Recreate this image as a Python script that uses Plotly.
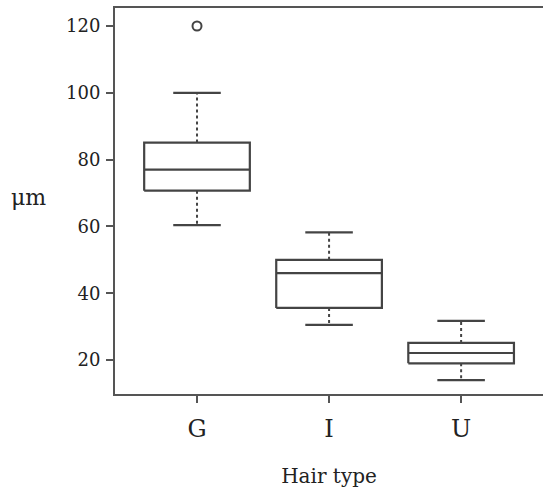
import plotly.graph_objects as go

categories = ["G", "I", "U"]
lower_whisker = [60.4, 30.5, 14.0]
q1 = [70.7, 35.6, 19.0]
median = [77.0, 46.0, 22.1]
q3 = [85.1, 50.0, 25.1]
upper_whisker = [100.0, 58.2, 31.7]
outlier_cat = ["G"]
outlier_val = [120.0]
y_ticks = [20, 40, 60, 80, 100, 120]

BOX_HW = 0.4
CAP_HW = 0.18
LC = "#444444"
pos = {c: i for i, c in enumerate(categories)}

box_x, box_y, med_x, med_y, wh_x, wh_y, cap_x, cap_y = [], [], [], [], [], [], [], []
for i, c in enumerate(categories):
    box_x += [i - BOX_HW, i + BOX_HW, i + BOX_HW, i - BOX_HW, i - BOX_HW, None]
    box_y += [q1[i], q1[i], q3[i], q3[i], q1[i], None]
    med_x += [i - BOX_HW, i + BOX_HW, None]
    med_y += [median[i], median[i], None]
    wh_x += [i, i, None, i, i, None]
    wh_y += [q3[i], upper_whisker[i], None, q1[i], lower_whisker[i], None]
    cap_x += [i - CAP_HW, i + CAP_HW, None, i - CAP_HW, i + CAP_HW, None]
    cap_y += [upper_whisker[i], upper_whisker[i], None, lower_whisker[i], lower_whisker[i], None]

fig = go.Figure()
fig.add_trace(go.Scatter(x=wh_x, y=wh_y, mode="lines", line=dict(color=LC, width=2, dash="dot"), hoverinfo="skip"))
fig.add_trace(go.Scatter(x=cap_x, y=cap_y, mode="lines", line=dict(color=LC, width=2.2), hoverinfo="skip"))
fig.add_trace(go.Scatter(x=box_x, y=box_y, mode="lines", line=dict(color=LC, width=2.2), hoverinfo="skip"))
fig.add_trace(go.Scatter(x=med_x, y=med_y, mode="lines", line=dict(color=LC, width=2.2), hoverinfo="skip"))
fig.add_trace(go.Scatter(x=[pos[c] for c in outlier_cat], y=outlier_val, mode="markers",
                         marker=dict(symbol="circle-open", size=9, color=LC, line=dict(width=2)), hoverinfo="skip"))

fig.update_layout(
    width=543, height=498,
    margin=dict(l=115, r=0, t=8, b=104),
    paper_bgcolor="white", plot_bgcolor="white",
    showlegend=False,
    font=dict(family="DejaVu Serif", color="#222222"),
    xaxis=dict(
        range=[-0.621, 2.62], tickvals=list(range(len(categories))), ticktext=categories,
        showline=True, linecolor="#555555", linewidth=2, mirror=True,
        ticks="outside", ticklen=7, tickwidth=2, tickcolor="#555555",
        showgrid=False, zeroline=False, tickfont=dict(size=24), ticklabelstandoff=5,
        title=dict(text="Hair type", font=dict(size=20), standoff=27),
    ),
    yaxis=dict(
        range=[9.82, 125.39], tickvals=y_ticks,
        showline=True, linecolor="#555555", linewidth=2,
        ticks="outside", ticklen=7, tickwidth=2, tickcolor="#555555",
        showgrid=False, zeroline=False, tickfont=dict(size=18), ticklabelstandoff=2,
    ),
    annotations=[dict(text="μm", xref="paper", yref="paper", x=-0.203, y=0.51,
                      xanchor="center", yanchor="middle", showarrow=False, font=dict(size=22, color="#222222"))],
)
fig.write_html("out.html", config={"displayModeBar": False}, post_script="document.body.style.margin='0';")
